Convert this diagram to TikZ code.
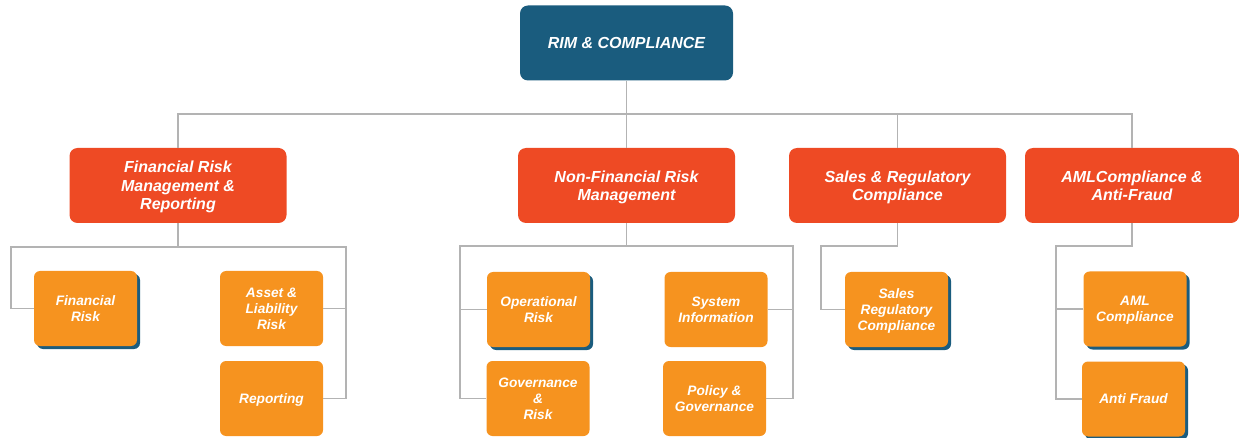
\documentclass[tikz,border=0pt]{standalone}
\usepackage{fontspec}
\setmainfont{Liberation Sans}
\usetikzlibrary{shadows}
\definecolor{rimblue}{HTML}{1A5C7E}
\definecolor{rimred}{HTML}{EE4A24}
\definecolor{rimorange}{HTML}{F6931F}
\definecolor{rimgray}{HTML}{B3B3B3}
\tikzset{
  rootbox/.style={fill=rimblue, rounded corners=8pt, minimum width=213pt, minimum height=75pt,
    inner sep=0pt, text=white, align=center, font=\fontsize{16}{18.5}\selectfont\bfseries\itshape},
  headbox/.style={fill=rimred, rounded corners=8pt, minimum width=217pt, minimum height=75pt,
    inner sep=0pt, text depth=0pt, text=white, align=center, font=\fontsize{16}{18.5}\selectfont\bfseries\itshape},
  leafbox/.style={fill=rimorange, rounded corners=6pt, minimum width=103pt, minimum height=75pt,
    inner sep=0pt, text depth=0pt, text=white, align=center, font=\fontsize{13.7}{16}\selectfont\bfseries\itshape},
  shadowed/.style={drop shadow={shadow xshift=3pt, shadow yshift=-3pt, fill=rimblue, opacity=1}},
  conn/.style={draw=rimgray, line width=1.6pt}
}
\begin{document}
\begin{tikzpicture}[x=1pt, y=-1pt]
\useasboundingbox (0,0) rectangle (1239,438);

% root and level 1
\node[rootbox] (root) at (626.5,43) {RIM \& COMPLIANCE};
\node[headbox] (frm) at (178,185.5) {Financial Risk\\Management \&\\Reporting};
\node[headbox] (nfrm) at (626.5,185.5) {Non-Financial Risk\\Management};
\node[headbox] (sales) at (897.5,185.5) {Sales \& Regulatory\\Compliance};
\node[headbox, minimum width=214pt] (aml) at (1132,185.5) {AMLCompliance \&\\Anti-Fraud};

% leaves
\node[leafbox, shadowed] (fr) at (85.5,308.5) {Financial\\Risk};
\node[leafbox] (asset) at (271.5,308.5) {Asset \&\\Liability\\Risk};
\node[leafbox] (rep) at (271.5,398.5) {Reporting};
\node[leafbox, shadowed] (op) at (538.5,309.5) {Operational\\Risk};
\node[leafbox] (gov) at (538,398.5) {Governance\\\&\\Risk};
\node[leafbox] (sys) at (716,309.5) {System\\Information};
\node[leafbox] (pol) at (714.5,398.5) {Policy \&\\Governance};
\node[leafbox, shadowed] (sr) at (896.5,309.5) {Sales\\Regulatory\\Compliance};
\node[leafbox, shadowed] (amlc) at (1135,309) {AML\\Compliance};
\node[leafbox, shadowed] (af) at (1133.5,399) {Anti Fraud};

% bus coordinates
\coordinate (bus) at (626.5,114);
\coordinate (frmL) at (11,247);
\coordinate (frmR) at (346,247);
\coordinate (nL) at (460,246);
\coordinate (nR) at (793,246);
\coordinate (sL) at (821,246);
\coordinate (aL) at (1056,246);

% top level connectors
\draw[conn] (root.south) -- (nfrm.north);
\draw[conn] (frm.north) |- (aml.north |- bus) -- (aml.north);
\draw[conn] (sales.north) -- (sales.north |- bus);

% FRM children
\draw[conn] (frm.south) -- (frm.south |- frmL);
\draw[conn] (fr.west) -| (frmL) -- (frmR) |- (rep.east);
\draw[conn] (asset.east) -- (asset.east -| frmR);

% NFRM children
\draw[conn] (nfrm.south) -- (nfrm.south |- nL);
\draw[conn] (gov.west) -| (nL) -- (nR) |- (pol.east);
\draw[conn] (op.west) -- (op.west -| nL);
\draw[conn] (sys.east) -- (sys.east -| nR);

% Sales children
\draw[conn] (sales.south) |- (sL) |- (sr.west);

% AML children
\draw[conn] (aml.south) |- (aL) |- (af.west);
\draw[conn] (amlc.west) -- (amlc.west -| aL);
\end{tikzpicture}
\end{document}
